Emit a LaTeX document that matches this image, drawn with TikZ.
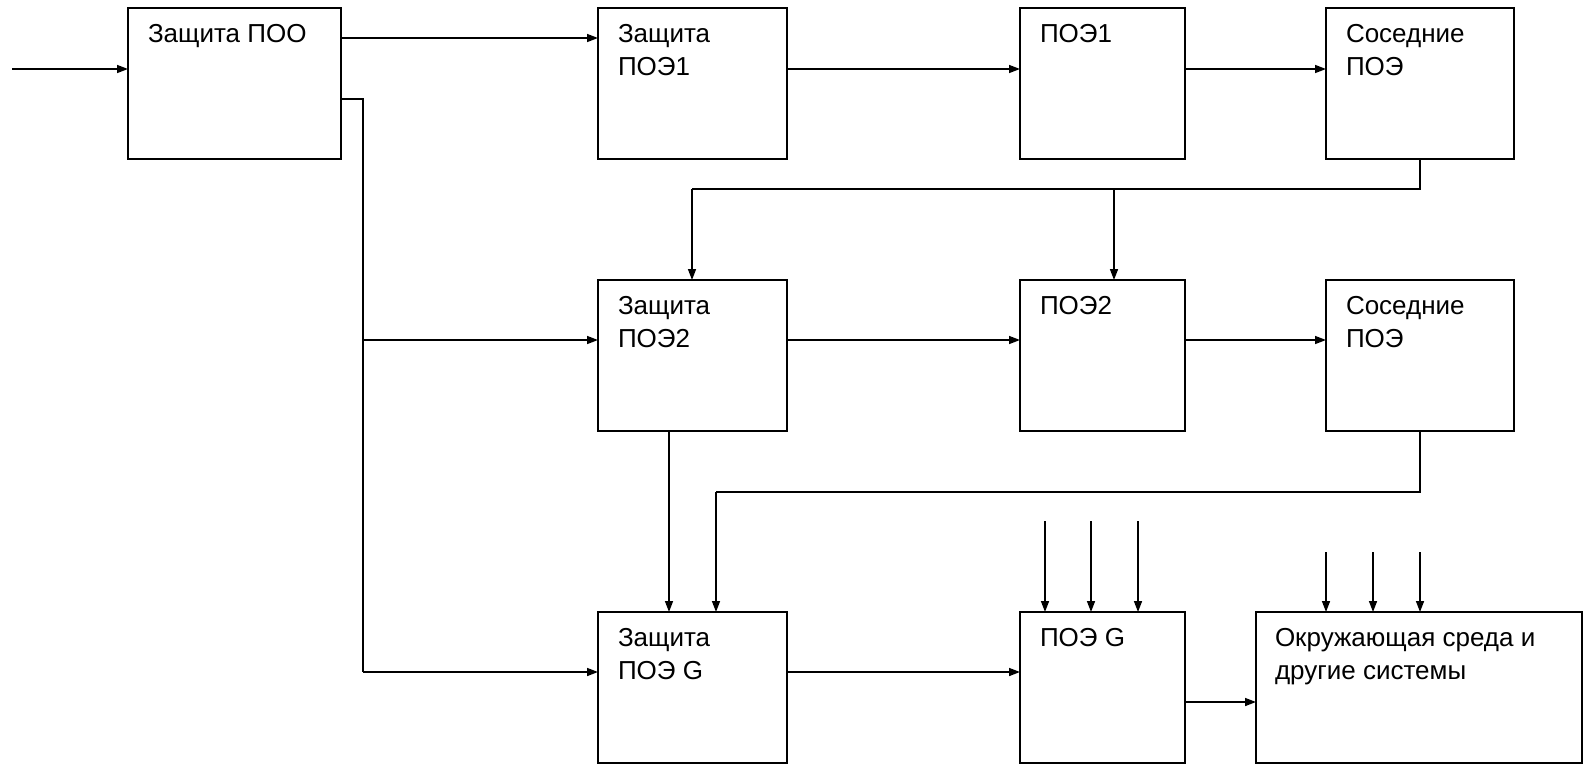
\documentclass[tikz,border=0pt]{standalone}
\usepackage{fontspec}
\setmainfont{Liberation Sans}
\usetikzlibrary{arrows.meta,calc}
\begin{document}
\begin{tikzpicture}[x=1pt,y=-1pt,
  blk/.style={draw,line width=1.6pt,inner sep=0pt,outer sep=0pt,anchor=north west},
  lbl/.style={inner sep=0pt,outer sep=0pt,anchor=north west,align=left,font=\fontsize{26}{33}\selectfont},
  arr/.style={line width=1.5pt,-{Triangle[length=11pt,width=8pt]}},
  ln/.style={line width=1.5pt}]
\useasboundingbox (0,0) rectangle (1584,764);
% boxes
\node[blk,minimum width=213pt,minimum height=151pt] (poo) at (128,8) {};
\node[blk,minimum width=189pt,minimum height=151pt] (zp1) at (598,8) {};
\node[blk,minimum width=165pt,minimum height=151pt] (p1) at (1020,8) {};
\node[blk,minimum width=188pt,minimum height=151pt] (s1) at (1326,8) {};
\node[blk,minimum width=189pt,minimum height=151pt] (zp2) at (598,280) {};
\node[blk,minimum width=165pt,minimum height=151pt] (p2) at (1020,280) {};
\node[blk,minimum width=188pt,minimum height=151pt] (s2) at (1326,280) {};
\node[blk,minimum width=189pt,minimum height=151pt] (zpg) at (598,612) {};
\node[blk,minimum width=165pt,minimum height=151pt] (pg) at (1020,612) {};
\node[blk,minimum width=326pt,minimum height=151pt] (env) at (1256,612) {};
% labels
\node[lbl] (tpoo) at ([shift={(20,16)}]poo.north west) {Защита ПОО};
\node[lbl] (tzp1) at ([shift={(20,16)}]zp1.north west) {Защита\\ПОЭ1};
\node[lbl] (tp1) at ([shift={(20,16)}]p1.north west) {ПОЭ1};
\node[lbl] (ts1) at ([shift={(20,16)}]s1.north west) {Соседние\\ПОЭ};
\node[lbl] (tzp2) at ([shift={(20,16)}]zp2.north west) {Защита\\ПОЭ2};
\node[lbl] (tp2) at ([shift={(20,16)}]p2.north west) {ПОЭ2};
\node[lbl] (ts2) at ([shift={(20,16)}]s2.north west) {Соседние\\ПОЭ};
\node[lbl] (tzpg) at ([shift={(20,16)}]zpg.north west) {Защита\\ПОЭ G};
\node[lbl] (tpg) at ([shift={(20,16)}]pg.north west) {ПОЭ G};
\node[lbl] (tenv) at ([shift={(19,16)}]env.north west) {Окружающая среда и\\другие системы};
% free ends
\coordinate (in) at (12,69);
\coordinate (bus) at (363,99);
\coordinate (fb1) at (1420,189);
\coordinate (fb2) at (1420,492);
\coordinate (g1) at (1045,521);
\coordinate (g2) at (1091,521);
\coordinate (g3) at (1138,521);
\coordinate (e1) at (1326,552);
\coordinate (e2) at (1373,552);
\coordinate (e3) at (1420,552);
% row 1
\draw[arr] (in) -- (in -| poo.west);
\draw[arr] ([yshift=-30pt]poo.north east) -- ([yshift=-30pt]zp1.north west);
\draw[arr] ([yshift=-61pt]zp1.north east) -- ([yshift=-61pt]p1.north west);
\draw[arr] ([yshift=-61pt]p1.north east) -- ([yshift=-61pt]s1.north west);
% bus from ПОО
\draw[ln] (bus -| poo.east) -- (bus) -- (bus |- 0,672);
\draw[arr] (bus |- 0,672) -- (zpg.west |- 0,672);
\draw[arr] (bus |- 0,340) -- (zp2.west |- 0,340);
% feedback 1
\draw[ln] (fb1 |- s1.south) -- (fb1) -- (692,189);
\draw[arr] (692,189) -- (692,189 |- zp2.north);
\draw[arr] (1114,189) -- (1114,189 |- p2.north);
% row 2
\draw[arr] ([yshift=-60pt]zp2.north east) -- ([yshift=-60pt]p2.north west);
\draw[arr] ([yshift=-60pt]p2.north east) -- ([yshift=-60pt]s2.north west);
\draw[arr] (669,0 |- zp2.south) -- (669,0 |- zpg.north);
% feedback 2
\draw[ln] (fb2 |- s2.south) -- (fb2) -- (716,492);
\draw[arr] (716,492) -- (716,492 |- zpg.north);
% row 3
\draw[arr] ([yshift=-60pt]zpg.north east) -- ([yshift=-60pt]pg.north west);
\draw[arr] ([yshift=-90pt]pg.north east) -- ([yshift=-90pt]env.north west);
\draw[arr] (g1) -- (g1 |- pg.north);
\draw[arr] (g2) -- (g2 |- pg.north);
\draw[arr] (g3) -- (g3 |- pg.north);
\draw[arr] (e1) -- (e1 |- env.north);
\draw[arr] (e2) -- (e2 |- env.north);
\draw[arr] (e3) -- (e3 |- env.north);
\end{tikzpicture}
\end{document}
